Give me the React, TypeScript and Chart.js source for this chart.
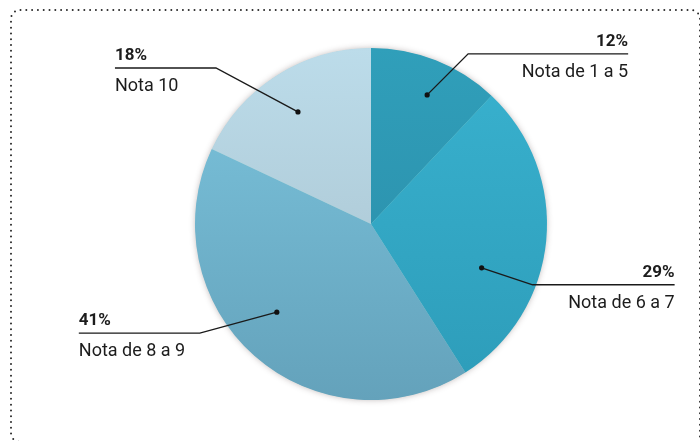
import React, { useEffect, useRef } from "react";
import { Chart, registerables } from "chart.js";

Chart.register(...registerables);

const categories = ["Nota de 1 a 5", "Nota de 6 a 7", "Nota de 8 a 9", "Nota 10"];
const shares = [12, 29, 41, 18];

const topColors = ["#309fba", "#39b2cf", "#7cc5de", "#bcdcea"];
const bottomColors = ["#2a8aa6", "#2d9cb9", "#64a2bb", "#a6bfcb"];

// annotation layout (leader lines): angle offset from slice mid (deg), radius fraction,
// elbow offset from dot, horizontal run from elbow
const labelAngleOffset = [1.9, 16.2, 5.5, -0.7];
const labelRadiusFrac = [0.8, 0.676, 0.733, 0.76];
const labelElbow = [[41, -41], [51, 17], [-77, 21], [-82, -44]];
const labelRun = [160, 142, -121, -101];

const FONT = "Roboto, 'DejaVu Sans', sans-serif";

const framePlugin = {
  id: "frame",
  beforeDraw(chart: any) {
    const c = chart.ctx;
    c.save();
    c.strokeStyle = "#2a2a2a";
    c.lineWidth = 2;
    c.lineCap = "round";
    c.setLineDash([0, 5.8]);
    const l = 11, t = 10, r = 700, b = 442, rad = 9;
    c.beginPath();
    c.moveTo(l + rad + 4, b);
    c.arcTo(l, b, l, b - rad, rad);
    c.lineTo(l, t + rad);
    c.arcTo(l, t, l + rad, t, rad);
    c.lineTo(r - rad, t);
    c.arcTo(r, t, r, t + rad, rad);
    c.lineTo(r, b);
    c.stroke();
    c.restore();
  },
  beforeDatasetsDraw(chart: any) {
    const meta = chart.getDatasetMeta(0);
    const arc = meta.data[0];
    if (!arc) return;
    const { x, y, outerRadius } = arc.getProps(["x", "y", "outerRadius"], true);
    const c = chart.ctx;
    c.save();
    c.shadowColor = "rgba(60,40,40,0.35)";
    c.shadowBlur = 6;
    c.fillStyle = "#8cc";
    c.beginPath();
    c.arc(x, y, outerRadius - 0.5, 0, Math.PI * 2);
    c.fill();
    c.restore();
  },
};

const labelPlugin = {
  id: "leaderLabels",
  afterDraw(chart: any) {
    const meta = chart.getDatasetMeta(0);
    const c = chart.ctx;
    const total = shares.reduce((a, b) => a + b, 0);
    meta.data.forEach((arc: any, i: number) => {
      const { x, y, startAngle, endAngle, outerRadius } = arc.getProps(
        ["x", "y", "startAngle", "endAngle", "outerRadius"],
        true
      );
      const ang = (startAngle + endAngle) / 2 + (labelAngleOffset[i] * Math.PI) / 180;
      const r = outerRadius * labelRadiusFrac[i];
      const dx = x + Math.cos(ang) * r;
      const dy = y + Math.sin(ang) * r;
      const ex = dx + labelElbow[i][0];
      const ey = dy + labelElbow[i][1];
      const endX = ex + labelRun[i];
      c.save();
      c.strokeStyle = "#1a1a1a";
      c.lineWidth = 1.4;
      c.beginPath();
      c.moveTo(dx, dy);
      c.lineTo(ex, ey);
      c.lineTo(endX, ey);
      c.stroke();
      c.fillStyle = "#111";
      c.beginPath();
      c.arc(dx, dy, 2.6, 0, Math.PI * 2);
      c.fill();
      const right = labelRun[i] > 0;
      c.textAlign = right ? "right" : "left";
      c.textBaseline = "alphabetic";
      c.fillStyle = "#1c1c1c";
      c.font = `bold 17px ${FONT}`;
      c.fillText(Math.round((shares[i] / total) * 100) + "%", endX, ey - 8);
      c.font = `18px ${FONT}`;
      c.fillText(categories[i], endX, ey + 23);
      c.restore();
    });
  },
};

export default function App() {
  const ref = useRef<HTMLCanvasElement>(null);
  useEffect(() => {
    if (!ref.current) return;
    const chart = new Chart(ref.current, {
      type: "pie",
      data: {
        labels: categories,
        datasets: [
          {
            data: shares,
            borderWidth: 0,
            backgroundColor: (ctx: any) => {
              const i = ctx.dataIndex;
              const area = ctx.chart.chartArea;
              if (!area) return topColors[i];
              const g = ctx.chart.ctx.createLinearGradient(0, area.top, 0, area.bottom);
              g.addColorStop(0, topColors[i]);
              g.addColorStop(1, bottomColors[i]);
              return g;
            },
          },
        ],
      },
      options: {
        animation: false,
        responsive: false,
        maintainAspectRatio: false,
        layout: { padding: { left: 195, right: 153, top: 48, bottom: 41 } },
        plugins: {
          legend: { display: false },
          tooltip: { enabled: false },
        },
      },
      plugins: [framePlugin, labelPlugin],
    });
    return () => chart.destroy();
  }, []);
  return (
    <div style={{ position: "fixed", left: 0, top: 0, width: 700, height: 441, background: "#fff" }}>
      <canvas ref={ref} width={700} height={441} style={{ width: 700, height: 441, display: "block" }} />
    </div>
  );
}
